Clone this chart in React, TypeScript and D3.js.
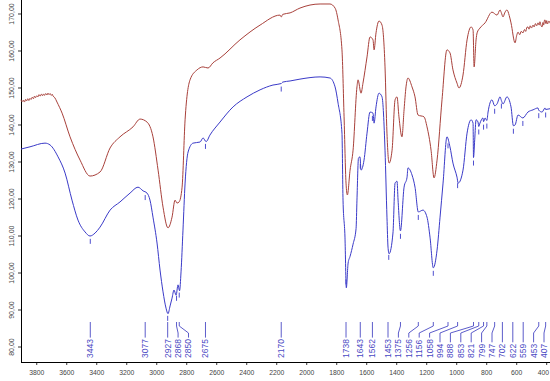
import React, { useEffect } from "react";
import * as d3 from "d3";

// wavenumber (cm-1) and transmittance values
const redWave = [3905, 3898, 3890, 3882, 3875, 3868, 3860, 3852, 3845, 3838, 3830, 3822, 3815, 3808, 3800, 3792, 3785, 3778, 3770, 3762, 3755, 3748, 3740, 3732, 3725, 3718, 3711, 3703, 3697, 3691, 3680, 3665, 3631, 3578, 3511, 3445, 3378, 3311, 3245, 3158, 3111, 3065, 3025, 2991, 2958, 2925, 2898, 2878, 2865, 2851, 2831, 2811, 2778, 2731, 2691, 2658, 2625, 2578, 2445, 2311, 2178, 2170, 2160, 2111, 2045, 1911, 1845, 1811, 1791, 1765, 1751, 1738, 1729, 1711, 1691, 1665, 1658, 1638, 1625, 1598, 1578, 1558, 1551, 1538, 1518, 1498, 1478, 1465, 1451, 1431, 1411, 1398, 1385, 1365, 1351, 1338, 1325, 1298, 1278, 1258, 1218, 1198, 1171, 1151, 1131, 1098, 1065, 1045, 1025, 998, 985, 958, 931, 904, 891, 884, 871, 864, 845, 811, 765, 731, 711, 703, 691, 680, 665, 650, 638, 611, 600, 591, 580, 570, 558, 548, 540, 532, 525, 518, 510, 502, 491, 484, 475, 467, 458, 450, 445, 438, 431, 425, 420, 415, 411, 405, 400, 395, 391, 385, 378];
const redT = [146.8, 146.3, 146.7, 146.2, 146.9, 146.5, 147.1, 146.6, 147.2, 146.9, 147.5, 147.1, 147.8, 147.4, 147.9, 147.6, 148.2, 147.8, 148.3, 147.9, 148.4, 148.0, 148.5, 148.1, 148.6, 148.2, 148.5, 148.0, 148.3, 147.8, 147.4, 146.2, 143.2, 136.8, 130.5, 126.2, 127.3, 133.8, 136.8, 139.5, 141.6, 140.8, 136.8, 127.8, 117.8, 112.2, 115.1, 119.7, 118.9, 119.2, 123.2, 141.4, 152.2, 154.9, 155.7, 155.4, 156.8, 158.1, 163.0, 167.0, 169.7, 169.2, 169.9, 170.3, 171.6, 172.7, 172.7, 171.6, 168.4, 160.3, 142.2, 124.3, 121.1, 127.8, 133.2, 150.3, 152.2, 148.6, 151.3, 158.4, 163.8, 163.0, 160.3, 164.9, 168.1, 167.0, 155.7, 137.8, 129.7, 133.2, 146.8, 147.6, 142.2, 136.8, 144.1, 150.3, 152.7, 150.3, 147.6, 142.7, 142.2, 139.5, 133.2, 125.7, 130.5, 146.8, 160.3, 159.5, 154.9, 151.3, 150.0, 153.5, 163.0, 166.5, 165.7, 155.7, 163.0, 164.9, 166.2, 167.6, 170.5, 169.7, 171.1, 170.4, 169.2, 170.3, 171.1, 169.6, 167.6, 162.2, 164.2, 165.1, 164.4, 165.3, 164.9, 165.8, 165.3, 166.4, 166.5, 165.9, 166.8, 166.2, 167.0, 166.5, 167.4, 166.8, 167.6, 167.0, 167.9, 166.9, 166.5, 167.7, 167.0, 168.3, 168.4, 167.4, 168.2, 167.3, 167.6, 168.1, 167.5];

const blueWave = [3905, 3845, 3745, 3711, 3658, 3611, 3565, 3525, 3478, 3445, 3411, 3378, 3311, 3245, 3178, 3125, 3091, 3065, 3045, 3025, 2998, 2978, 2958, 2938, 2925, 2911, 2898, 2885, 2871, 2858, 2848, 2838, 2825, 2811, 2791, 2758, 2711, 2691, 2671, 2645, 2578, 2491, 2398, 2311, 2225, 2170, 2160, 2111, 2045, 1911, 1845, 1811, 1791, 1765, 1758, 1745, 1736, 1724, 1711, 1691, 1671, 1665, 1655, 1645, 1638, 1618, 1598, 1578, 1558, 1551, 1538, 1518, 1498, 1478, 1465, 1458, 1451, 1425, 1411, 1398, 1391, 1375, 1351, 1331, 1325, 1298, 1278, 1256, 1225, 1198, 1178, 1156, 1131, 1111, 1091, 1065, 1045, 1025, 998, 990, 958, 931, 904, 891, 888, 880, 871, 858, 853, 845, 825, 821, 811, 799, 791, 765, 747, 731, 711, 702, 691, 665, 638, 622, 611, 591, 559, 525, 491, 458, 453, 431, 411, 407, 391, 378];
const blueT = [133.5, 134.1, 135.1, 134.6, 131.4, 127.0, 119.7, 114.3, 111.1, 110.0, 110.8, 112.4, 117.0, 119.2, 121.6, 123.2, 122.2, 121.6, 119.7, 115.1, 108.1, 100.8, 94.9, 90.5, 89.0, 91.1, 93.2, 95.4, 94.0, 96.8, 95.2, 100.3, 111.6, 124.3, 132.7, 135.1, 135.4, 136.5, 135.5, 137.3, 140.8, 144.9, 147.6, 149.5, 150.8, 151.2, 151.6, 151.9, 152.4, 153.0, 152.7, 150.3, 145.9, 137.8, 119.7, 109.7, 96.0, 102.7, 104.5, 107.8, 112.0, 119.7, 131.0, 131.4, 127.8, 130.5, 137.8, 143.5, 143.2, 140.5, 144.9, 148.6, 147.6, 133.2, 115.1, 107.0, 105.2, 110.8, 124.3, 124.8, 119.7, 111.4, 123.2, 125.9, 128.4, 126.5, 123.2, 116.5, 117.0, 115.1, 109.7, 101.4, 106.2, 115.1, 124.3, 136.8, 134.1, 129.7, 125.9, 124.3, 127.8, 137.8, 141.4, 140.5, 131.2, 136.0, 141.4, 140.8, 139.6, 140.5, 141.9, 140.9, 141.9, 141.2, 143.5, 146.8, 145.2, 145.7, 147.6, 146.6, 145.7, 147.6, 144.9, 139.8, 140.0, 142.7, 141.9, 143.5, 144.1, 144.6, 144.0, 143.5, 144.6, 144.2, 144.3, 144.4];

const peaks = [3443, 3077, 2927, 2868, 2850, 2675, 2170, 1738, 1643, 1562, 1453, 1375, 1256, 1156, 1058, 994, 888, 853, 821, 799, 747, 702, 622, 559, 453, 407];

const xTicks = [3800, 3600, 3400, 3200, 3000, 2800, 2600, 2400, 2200, 2000, 1800, 1600, 1400, 1200, 1000, 800, 600, 400];
const yTicks = [80, 90, 100, 110, 120, 130, 140, 150, 160, 170];

const W = 550;
const H = 381;
const left = 21;
const bottom = 362;

const RED = "#a8403a";
const BLUE = "#3a3ac8";
const LABEL = "#4a4ac4";

function interp(waves: number[], vals: number[], w: number) {
  for (let i = 0; i < waves.length - 1; i++) {
    const a = waves[i], b = waves[i + 1];
    if (w <= a && w >= b) {
      const t = (a - w) / (a - b);
      return vals[i] + t * (vals[i + 1] - vals[i]);
    }
  }
  return vals[vals.length - 1];
}

export default function App() {
  useEffect(() => {
    document.body.style.margin = "0";
  }, []);

  const x = d3.scaleLinear().domain([3905, 378]).range([left, W]);
  const y = d3.scaleLinear().domain([75.95, 173.78]).range([bottom, 0]);

  const line = d3
    .line<[number, number]>()
    .x((d) => x(d[0]))
    .y((d) => y(d[1]))
    .curve(d3.curveMonotoneX);

  const redPts = redWave.map((w, i) => [w, redT[i]] as [number, number]);
  const bluePts = blueWave.map((w, i) => [w, blueT[i]] as [number, number]);

  // label layout: de-overlap
  const fs = 8.5;
  const gap = 10.4;
  const px = peaks.map((p) => x(p));
  const lx = px.slice();
  for (let i = 1; i < lx.length; i++) lx[i] = Math.max(lx[i], lx[i - 1] + gap);
  lx[lx.length - 1] = Math.min(lx[lx.length - 1], 544);
  for (let i = lx.length - 2; i >= 0; i--) lx[i] = Math.min(lx[i], lx[i + 1] - gap);

  const textBottom = 358;
  const fmt = (v: number) => v.toFixed(2).replace(".", ",");

  return (
    <svg width={W} height={H} style={{ display: "block", background: "#fff" }} fontFamily="'Liberation Sans', Arial, sans-serif">
      <rect width={W} height={H} fill="#fff" />
      {/* axes */}
      <line x1={left + 0.5} y1={0} x2={left + 0.5} y2={bottom + 0.5} stroke="#000" strokeWidth={1} />
      <line x1={left} y1={bottom + 0.5} x2={W} y2={bottom + 0.5} stroke="#000" strokeWidth={1} />
      {yTicks.map((t) => (
        <g key={"y" + t}>
          <line x1={left - 3} x2={left} y1={y(t)} y2={y(t)} stroke="#000" strokeWidth={0.8} />
          <text
            transform={`translate(12,${y(t)}) rotate(-90)`}
            textAnchor="middle"
            dy="0.35em"
            fontSize={7}
            fill="#444"
          >
            {fmt(t)}
          </text>
        </g>
      ))}
      {xTicks.map((t, i) => {
        const last = i === xTicks.length - 1;
        return (
          <g key={"x" + t}>
            <line x1={x(t)} x2={x(t)} y1={bottom} y2={bottom + 3} stroke="#000" strokeWidth={0.8} />
            <text
              x={last ? W - 1 : x(t)}
              y={374.5}
              textAnchor={last ? "end" : "middle"}
              fontSize={6.8}
              fill="#444"
            >
              {t}
            </text>
          </g>
        );
      })}
      {/* spectra */}
      <path d={line(redPts) || ""} fill="none" stroke={RED} strokeWidth={1} />
      <path d={line(bluePts) || ""} fill="none" stroke={BLUE} strokeWidth={1} />
      {/* peak markers on blue */}
      {peaks.map((p) => {
        const cy = y(interp(blueWave, blueT, p));
        return <line key={"m" + p} x1={x(p)} x2={x(p)} y1={cy + 3} y2={cy + 8} stroke={BLUE} strokeWidth={0.9} />;
      })}
      {/* peak labels */}
      {peaks.map((p, i) => {
        const label = String(p);
        const top = textBottom - label.length * 0.556 * fs - 1.5;
        const a = px[i];
        const b = lx[i];
        const d =
          Math.abs(a - b) < 1.5
            ? `M${b},322 L${b},${top}`
            : `M${a},322 L${a},326 L${b},333 L${b},${top}`;
        return (
          <g key={"l" + p}>
            <path d={d} fill="none" stroke={LABEL} strokeWidth={0.9} />
            <text
              transform={`translate(${b},${textBottom}) rotate(-90)`}
              dy="0.35em"
              fontSize={fs}
              fill={LABEL}
            >
              {label}
            </text>
          </g>
        );
      })}
    </svg>
  );
}
